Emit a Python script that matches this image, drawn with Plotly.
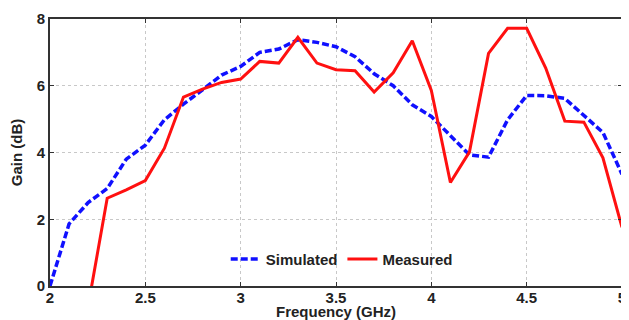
import plotly.graph_objects as go

sim_freq = [2.0, 2.1, 2.2, 2.3, 2.4, 2.5, 2.6, 2.7, 2.8, 2.9, 3.0, 3.1, 3.2, 3.3, 3.4, 3.5,
            3.6, 3.7, 3.8, 3.9, 4.0, 4.1, 4.2, 4.3, 4.4, 4.5, 4.6, 4.7, 4.8, 4.9, 5.0]
sim_gain = [0.0, 1.86, 2.5, 2.92, 3.8, 4.22, 4.98, 5.45, 5.88, 6.32, 6.58, 7.0, 7.1, 7.38, 7.3, 7.17,
            6.87, 6.36, 6.0, 5.43, 5.08, 4.5, 3.93, 3.86, 4.98, 5.71, 5.7, 5.62, 5.1, 4.6, 3.35]

meas_freq = [2.2, 2.3, 2.4, 2.5, 2.6, 2.7, 2.8, 2.9, 3.0, 3.1, 3.2, 3.3, 3.4, 3.5, 3.6,
             3.7, 3.8, 3.9, 4.0, 4.1, 4.2, 4.3, 4.4, 4.5, 4.6, 4.7, 4.8, 4.9, 5.0]
meas_gain = [-0.6, 2.63, 2.88, 3.16, 4.13, 5.66, 5.9, 6.1, 6.2, 6.73, 6.68, 7.45, 6.68, 6.48, 6.45,
             5.81, 6.39, 7.35, 5.86, 3.1, 4.02, 6.97, 7.72, 7.72, 6.53, 4.94, 4.91, 3.84, 1.76]

x_ticks = [2, 2.5, 3, 3.5, 4, 4.5, 5]
x_tick_labels = ["2", "2.5", "3", "3.5", "4", "4.5", "5"]
y_ticks = [0, 2, 4, 6, 8]

fig = go.Figure()
fig.add_trace(go.Scatter(x=sim_freq, y=sim_gain, mode="lines", name="Simulated",
                         line=dict(color="#1010ff", width=3.5, dash="7px,3px")))
fig.add_trace(go.Scatter(x=meas_freq, y=meas_gain, mode="lines", name="Measured",
                         line=dict(color="#ff1010", width=3)))

font = dict(family="Liberation Sans, Arial", size=15, color="#222", weight="bold")
axis_common = dict(showline=True, linecolor="#333", linewidth=2, mirror="ticks",
                   ticks="inside", ticklen=4, tickcolor="#333",
                   showgrid=True, gridcolor="#c8c8c8", griddash="dot", gridwidth=1,
                   zeroline=False, tickfont=font, ticklabeloverflow="allow")

fig.update_layout(
    width=621, height=312,
    margin=dict(l=42, r=7, t=2, b=34),
    paper_bgcolor="white", plot_bgcolor="white",
    font=font,
    showlegend=True,
    legend=dict(orientation="h", x=0.51, y=0.1, xanchor="center", yanchor="middle",
                bgcolor="rgba(255,255,255,0)", font=font, itemwidth=30),
    xaxis=dict(range=[2, 5], tickvals=x_ticks, ticktext=x_tick_labels, ticklabelstandoff=-3,
               title=dict(text="Frequency (GHz)", font=font, standoff=0), **axis_common),
    yaxis=dict(range=[0, 8], tickvals=y_ticks,
               title=dict(text="Gain (dB)", font=font, standoff=10), **axis_common),
)

fig.write_html("out.html")
